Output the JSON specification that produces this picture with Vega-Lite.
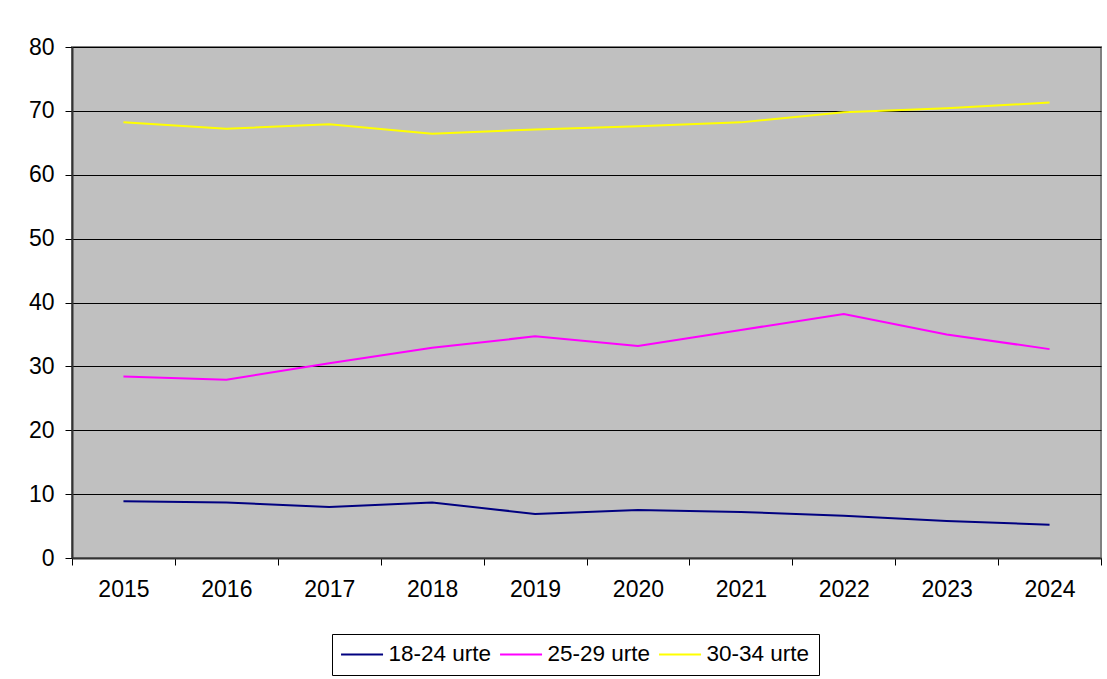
{
  "$schema": "https://vega.github.io/schema/vega-lite/v6.json",
  "autosize": "none",
  "padding": {"left": 72, "top": 47, "right": 6, "bottom": 121},
  "width": 1029,
  "height": 511,
  "background": "#ffffff",
  "config": {
    "font": "Liberation Sans",
    "view": {"fill": "#C0C0C0", "stroke": "#808080", "strokeWidth": 2}
  },
  "data": {
    "values": [
      {"year": "2015", "group": "18-24 urte", "value": 8.9},
      {"year": "2016", "group": "18-24 urte", "value": 8.7},
      {"year": "2017", "group": "18-24 urte", "value": 8.0},
      {"year": "2018", "group": "18-24 urte", "value": 8.7},
      {"year": "2019", "group": "18-24 urte", "value": 6.9},
      {"year": "2020", "group": "18-24 urte", "value": 7.5},
      {"year": "2021", "group": "18-24 urte", "value": 7.2},
      {"year": "2022", "group": "18-24 urte", "value": 6.6},
      {"year": "2023", "group": "18-24 urte", "value": 5.8},
      {"year": "2024", "group": "18-24 urte", "value": 5.2},
      {"year": "2015", "group": "25-29 urte", "value": 28.4},
      {"year": "2016", "group": "25-29 urte", "value": 27.9},
      {"year": "2017", "group": "25-29 urte", "value": 30.5},
      {"year": "2018", "group": "25-29 urte", "value": 32.9},
      {"year": "2019", "group": "25-29 urte", "value": 34.7},
      {"year": "2020", "group": "25-29 urte", "value": 33.2},
      {"year": "2021", "group": "25-29 urte", "value": 35.7},
      {"year": "2022", "group": "25-29 urte", "value": 38.2},
      {"year": "2023", "group": "25-29 urte", "value": 35.0},
      {"year": "2024", "group": "25-29 urte", "value": 32.7},
      {"year": "2015", "group": "30-34 urte", "value": 68.2},
      {"year": "2016", "group": "30-34 urte", "value": 67.2},
      {"year": "2017", "group": "30-34 urte", "value": 67.9},
      {"year": "2018", "group": "30-34 urte", "value": 66.4},
      {"year": "2019", "group": "30-34 urte", "value": 67.1},
      {"year": "2020", "group": "30-34 urte", "value": 67.6},
      {"year": "2021", "group": "30-34 urte", "value": 68.2},
      {"year": "2022", "group": "30-34 urte", "value": 69.8},
      {"year": "2023", "group": "30-34 urte", "value": 70.4},
      {"year": "2024", "group": "30-34 urte", "value": 71.3}
    ]
  },
  "mark": {"type": "line", "strokeWidth": 2},
  "encoding": {
    "x": {
      "field": "year",
      "type": "ordinal",
      "scale": {"type": "band", "paddingInner": 0, "paddingOuter": 0},
      "axis": {
        "title": null,
        "labelAngle": 0,
        "tickBand": "extent",
        "tickSize": 7,
        "tickColor": "#000000",
        "domainColor": "#333333",
        "domainWidth": 2,
        "labelPadding": 13,
        "labelFontSize": 23,
        "labelColor": "#000000",
        "grid": false
      }
    },
    "y": {
      "field": "value",
      "type": "quantitative",
      "scale": {"domain": [0, 80], "nice": false},
      "axis": {
        "title": null,
        "values": [0, 10, 20, 30, 40, 50, 60, 70, 80],
        "tickSize": 7,
        "tickColor": "#000000",
        "domainColor": "#333333",
        "domainWidth": 2,
        "labelPadding": 11,
        "labelFontSize": 23,
        "labelColor": "#000000",
        "grid": true,
        "gridColor": "#000000",
        "gridWidth": 1,
        "gridOpacity": 1
      }
    },
    "color": {
      "field": "group",
      "type": "nominal",
      "scale": {
        "domain": ["18-24 urte", "25-29 urte", "30-34 urte"],
        "range": ["#000080", "#FF00FF", "#FFFF00"]
      },
      "legend": {
        "title": null,
        "orient": "none",
        "legendX": 260,
        "legendY": 587,
        "direction": "horizontal",
        "symbolType": "M-1.6,0H4.4",
        "symbolSize": 196,
        "symbolStrokeWidth": 2,
        "labelFontSize": 22.5,
        "labelColor": "#000000",
        "labelOffset": 25,
        "columnPadding": 4,
        "padding": 9,
        "strokeColor": "#000000",
        "fillColor": "#ffffff"
      }
    }
  }
}
